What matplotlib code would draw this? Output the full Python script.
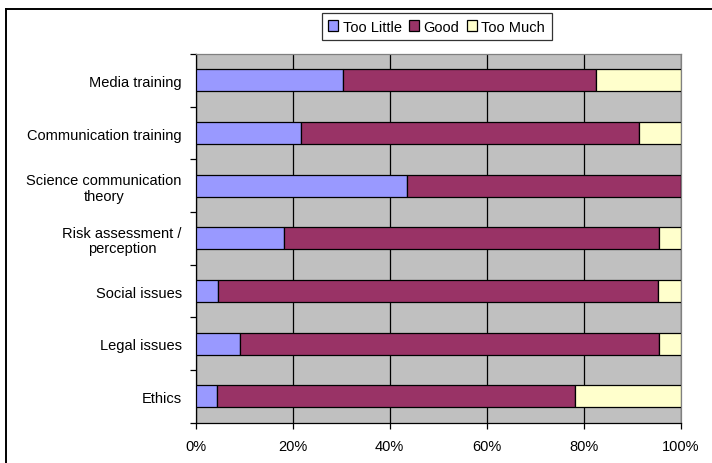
import matplotlib
matplotlib.use('Agg')
import matplotlib.pyplot as plt
from matplotlib.lines import Line2D
import numpy as np

plt.rcParams['font.family'] = ['Liberation Sans', 'DejaVu Sans']

categories = ['Media training', 'Communication training', 'Science communication\ntheory',
              'Risk assessment /\nperception', 'Social issues', 'Legal issues', 'Ethics']
too_little = [30.4, 21.7, 43.5, 18.2, 4.5, 9.1, 4.3]
good = [52.2, 69.6, 56.5, 77.3, 90.9, 86.4, 73.9]
too_much = [17.4, 8.7, 0.0, 4.5, 4.6, 4.5, 21.8]
series_names = ['Too Little', 'Good', 'Too Much']
colors = ['#9999FF', '#993366', '#FFFFCC']
xticks = [0, 20, 40, 60, 80, 100]

fig = plt.figure(figsize=(7.12, 4.64), dpi=100)
ax = fig.add_axes([195.7 / 712, 40.3 / 464, 485 / 712, 368.7 / 464])
ax.set_facecolor('#C0C0C0')

y = np.arange(len(categories))[::-1]
left = np.zeros(len(categories))
for vals, name, col in zip([too_little, good, too_much], series_names, colors):
    ax.barh(y, vals, left=left, height=0.42, color=col, edgecolor='black',
            linewidth=0.9, label=name, zorder=3)
    left += np.array(vals)

ax.set_xlim(0, 100)
ax.set_ylim(-0.5, len(categories) - 0.5)
ax.set_xticks(xticks)
ax.set_xticklabels([f'{t}%' for t in xticks], fontsize=10.5)
ax.xaxis.grid(True, color='black', linewidth=0.9)
ax.set_axisbelow(True)

ax.set_yticks(y)
ax.set_yticklabels(categories, fontsize=10.5, multialignment='center', linespacing=1.15)
ax.tick_params(axis='y', which='major', length=0, pad=10)
ax.set_yticks(np.arange(len(categories) + 1) - 0.5, minor=True)
ax.tick_params(axis='y', which='minor', length=4, width=0.9, direction='out')
ax.tick_params(axis='x', length=4, width=0.9, direction='out', pad=8)

for s in ['left', 'bottom']:
    ax.spines[s].set_color('black')
    ax.spines[s].set_linewidth(0.9)
for s in ['top', 'right']:
    ax.spines[s].set_color('#808080')
    ax.spines[s].set_linewidth(0.9)

leg = ax.legend(loc='center', bbox_to_anchor=(436.7 / 712, 1 - 27.7 / 464),
                bbox_transform=fig.transFigure, ncol=3, fontsize=10.5,
                frameon=True, fancybox=False, edgecolor='black', handlelength=0.7,
                handleheight=0.7, handletextpad=0.3, columnspacing=0.5,
                borderpad=0.45, borderaxespad=0)
leg.get_frame().set_linewidth(0.9)

# outer chart border: only left and top edges fall inside the image
bx, by = 6 / 712, 1 - 10 / 464
fig.add_artist(Line2D([bx, bx], [0, by], transform=fig.transFigure, color='black', linewidth=1.4))
fig.add_artist(Line2D([bx, 1], [by, by], transform=fig.transFigure, color='black', linewidth=1.4))

fig.savefig('out.png', dpi=100)
